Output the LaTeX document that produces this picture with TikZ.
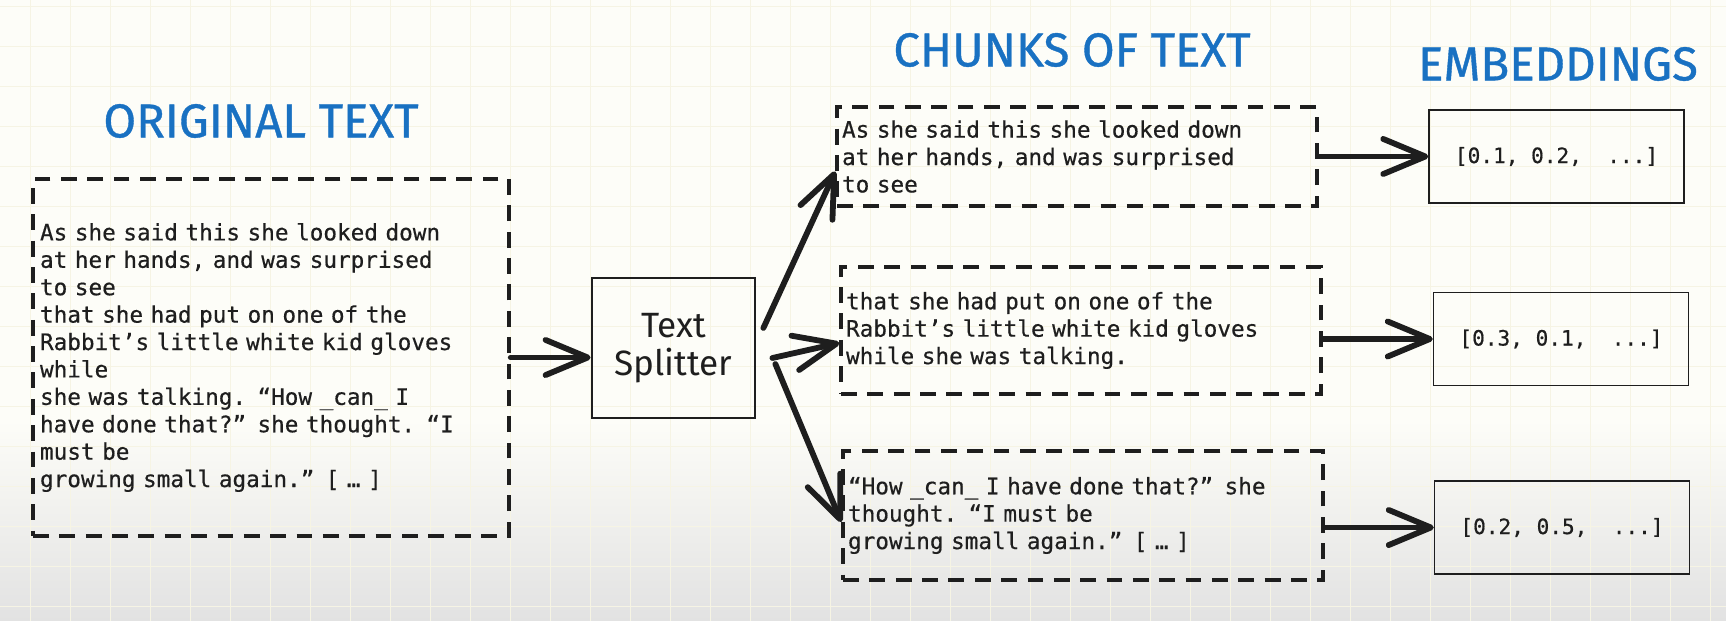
\documentclass[tikz,border=0pt]{standalone}
\usepackage{fontspec}
\setmainfont{Fira Sans}
\setmonofont{DejaVu Sans Mono}[FakeBold=0.5]
\usepackage{tikz}
\usetikzlibrary{arrows.meta,positioning}

\definecolor{titleblue}{HTML}{1971C2}
\definecolor{ink}{HTML}{1E1E1E}
\definecolor{paper}{HTML}{FDFDF8}
\definecolor{papergrey}{HTML}{E2E2E2}
\definecolor{gridline}{HTML}{F6F4E4}

\begin{document}
\begin{tikzpicture}[x=0.02cm,y=-0.02cm,
    title/.style={text=titleblue,font=\fontsize{27}{30}\selectfont\addfontfeatures{FakeBold=0.8}},
    chunkbox/.style={draw=ink,text=ink,dashed,line width=2pt,dash pattern=on 9pt off 6pt,
        inner xsep=0.1cm,text width=9.4cm,align=left,
        font=\ttfamily\fontsize{12.9}{15.6}\selectfont},
    embbox/.style={draw=ink,text=ink,line width=0.9pt,minimum width=5.1cm,minimum height=1.86cm,
        font=\ttfamily\fontsize{12}{14}\selectfont},
    flow/.style={ink,-{Straight Barb[length=24pt,width=20pt,round]},line width=3.3pt,line cap=round}]
    \useasboundingbox (0,0) rectangle (1726,621);

    % paper with grid
    \fill[paper] (0,0) rectangle (1726,621);
    \shade[top color=paper,bottom color=papergrey] (0,420) rectangle (1726,621);
    \foreach \gx in {30,70,...,1710}
        \draw[gridline,line width=0.5pt] (\gx,0) -- (\gx,621);
    \foreach \gy in {6,46,...,606}
        \draw[gridline,line width=0.5pt] (0,\gy) -- (1726,\gy);

    % headings
    \node[title] (origtitle) at (261,121) {ORIGINAL TEXT};
    \node[title] (chunktitle) at (1072,50) {CHUNKS OF TEXT};
    \node[title] (embtitle) at (1558,64) {EMBEDDINGS};

    % original text
    \node[chunkbox,inner xsep=0.14cm,text width=9.24cm,minimum height=7.14cm] (orig) at (271,357.5) {As she said this she looked down\\
at her hands, and was surprised\\
to see\\
that she had put on one of the\\
Rabbit’s little white kid gloves\\
while\\
she was talking. “How \_can\_ I\\
have done that?” she thought. “I\\
must be\\
growing small again.” [ … ]};

    % splitter
    \node[draw=ink,text=ink,line width=1.6pt,minimum width=3.26cm,minimum height=2.8cm,align=center,
        font=\fontsize{20}{22}\selectfont] (split) at (673.5,348) {Text\\ Splitter};

    % chunks
    \node[chunkbox,minimum height=1.98cm] (chunk1) at (1077,156.5) {As she said this she looked down\\
at her hands, and was surprised\\
to see};
    \node[chunkbox,minimum height=2.54cm] (chunk2) at (1081,330.5) {that she had put on one of the\\
Rabbit’s little white kid gloves\\
while she was talking.};
    \node[chunkbox,minimum height=2.58cm] (chunk3) at (1083,515.5) {“How \_can\_ I have done that?” she\\
thought. “I must be\\
growing small again.” [ … ]};

    % embeddings
    \node[embbox] (emb1) at (1556.5,156.5) {[0.1, 0.2,~~...]};
    \node[embbox] (emb2) at (1561,339) {[0.3, 0.1,~~...]};
    \node[embbox] (emb3) at (1562,527.5) {[0.2, 0.5,~~...]};

    % arrows
    \draw[flow] (orig.east) -- (orig.east -| split.west);
    \draw[flow] ([xshift=0.14cm,yshift=0.4cm]split.east) -- ([yshift=-0.3cm]chunk1.west);
    \draw[flow] ([xshift=0.32cm,yshift=-0.2cm]split.east) -- ([yshift=-0.25cm]chunk2.west);
    \draw[flow] ([xshift=0.38cm,yshift=-0.32cm]split.east) -- ([yshift=-0.13cm]chunk3.west);
    \draw[flow] (emb1.west -| chunk1.east) -- (emb1.west);
    \draw[flow] (emb2.west -| chunk2.east) -- (emb2.west);
    \draw[flow] (emb3.west -| chunk3.east) -- (emb3.west);
\end{tikzpicture}
\end{document}
